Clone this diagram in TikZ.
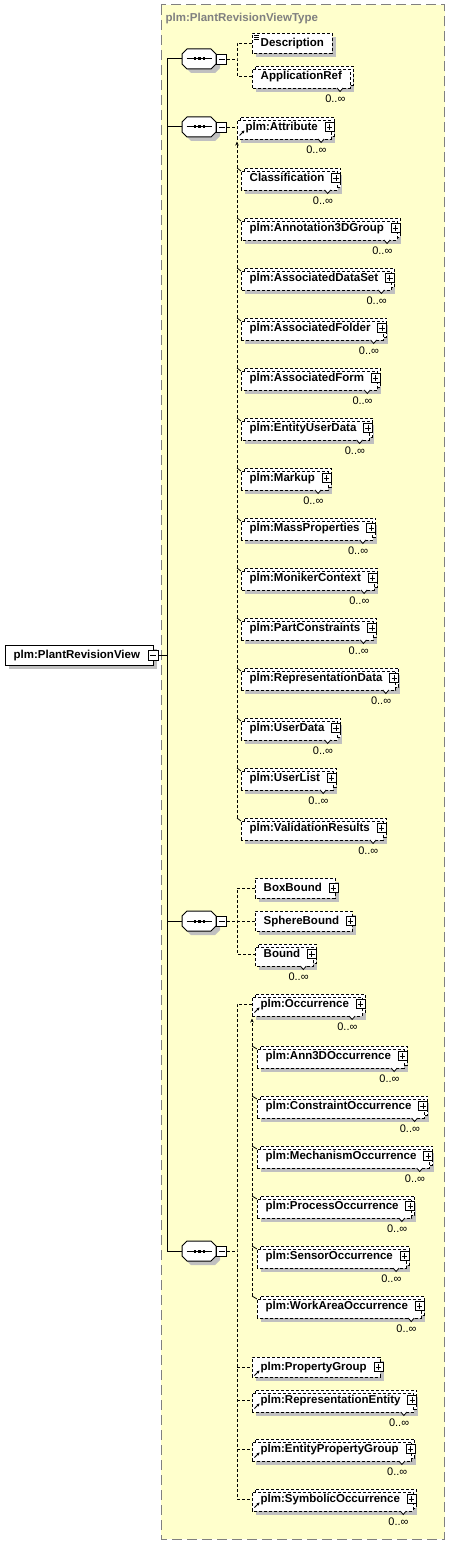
\documentclass[tikz,border=0pt]{standalone}
\usepackage{fontspec}
\setmainfont{Liberation Sans}
\usetikzlibrary{calc,arrows.meta}
\pgfdeclarelayer{bgl}\pgfdeclarelayer{shad}\pgfdeclarelayer{boxl}
\pgfsetlayers{bgl,shad,boxl,main}
\definecolor{yel}{RGB}{255,255,204}
\definecolor{shd}{RGB}{192,192,192}
\definecolor{ttl}{RGB}{128,128,128}
\tikzset{
  lbl/.style={inner sep=0pt, text height=8pt, text depth=1pt, font=\fontsize{11.5}{13}\selectfont\bfseries, anchor=west},
  multlbl/.style={inner sep=0pt, font=\fontsize{11}{12}\selectfont, anchor=east},
  dsh/.style={line width=0.9pt, dash pattern=on 3pt off 2pt},
  conn/.style={line width=0.9pt, dash pattern=on 3pt off 2pt},
  solidln/.style={line width=1pt},
  iconln/.style={line width=0.8pt},
  refarrow/.style={line width=0.9pt, -{Stealth[length=3pt,width=3pt]}},
}
% plus box centred on a named coordinate
\newcommand\plusbx[1]{%
  \draw[iconln, fill=white] ($(#1)+(-4.5,-4.5)$) rectangle ($(#1)+(4.5,4.5)$);
  \draw[iconln] ($(#1)+(-2.7,0)$) -- ($(#1)+(2.7,0)$) ($(#1)+(0,-2.7)$) -- ($(#1)+(0,2.7)$);
}
% multiple element: name, x0, cy, text, right pad, plus(1/0)
\newcommand\multel[6]{%
  \node[lbl] (#1) at (#2+8.5,#3) {#4};
  \coordinate (#1-l) at (#2,#3);
  \coordinate (#1-bl) at (#2,#3+12);
  \coordinate (#1-tr) at ($(#1.east)+(#5,-7)$);
  \coordinate (#1-br) at (#1-tr |- #1-bl);
  \begin{pgfonlayer}{shad}
    \fill[shd] ($(#1-bl)+(4,4)$) rectangle ($(#1-tr)+(4,4)$);
  \end{pgfonlayer}
  \begin{pgfonlayer}{boxl}
    \draw[dsh, fill=white] ($(#1-bl)+(3,-3)$) rectangle ($(#1-tr)+(3,-3)$);
    \draw[dsh, fill=white] (#1-bl) rectangle (#1-tr);
  \end{pgfonlayer}
  \draw[iconln, fill=white] ($(#1-br)+(-13,0)$) -- ($(#1-br)+(-10,3.5)$) -- ($(#1-br)+(-7,0)$);
  \node[multlbl] (#1-m) at ($(#1-br)+(-4.5,11)$) {0..∞};
  \ifnum#6=1
    \coordinate (#1-pc) at ($(#1-tr |- #1)+(-1.5,0)$);
    \plusbx{#1-pc}
  \fi
}
% single element: name, x0, cy, text, right pad, plus(1/0)
\newcommand\singel[6]{%
  \node[lbl] (#1) at (#2+8.5,#3) {#4};
  \coordinate (#1-l) at (#2,#3);
  \coordinate (#1-bl) at (#2,#3+10);
  \coordinate (#1-tr) at ($(#1.east)+(#5,-10)$);
  \begin{pgfonlayer}{shad}
    \fill[shd] ($(#1-bl)+(4,4)$) rectangle ($(#1-tr)+(4,4)$);
  \end{pgfonlayer}
  \begin{pgfonlayer}{boxl}
    \draw[dsh, fill=white] (#1-bl) rectangle (#1-tr);
  \end{pgfonlayer}
  \ifnum#6=1
    \coordinate (#1-pc) at ($(#1-tr |- #1)+(-1.5,0)$);
    \plusbx{#1-pc}
  \fi
}
\newcommand\refmark[1]{%
  \draw[refarrow] ($(#1-l)+(2.5,8.5)$) -- ($(#1-l)+(7.5,3.5)$);
}
% sequence compositor: name, cy
\newcommand\seqc[2]{%
  \coordinate (#1-w) at (182,#2);
  \begin{pgfonlayer}{shad}
    \fill[shd] (186,#2-1) -- (191,#2-6) -- (215,#2-6) -- (220,#2-1) -- (220,#2+9) -- (215,#2+14) -- (191,#2+14) -- (186,#2+9) -- cycle;
  \end{pgfonlayer}
  \draw[solidln, fill=white] (182,#2-5) -- (187,#2-10) -- (211,#2-10) -- (216,#2-5) -- (216,#2+5) -- (211,#2+10) -- (187,#2+10) -- (182,#2+5) -- cycle;
  \draw[solidln] (186.5,#2) -- (211.5,#2);
  \fill (193.6,#2-1.5) rectangle (196.4,#2+1.5);
  \fill (198.1,#2-1.5) rectangle (200.9,#2+1.5);
  \fill (202.6,#2-1.5) rectangle (205.4,#2+1.5);
  \node[draw, iconln, fill=white, minimum size=10pt, inner sep=0pt] (#1-m) at (221.7,#2) {};
  \draw[iconln] (218.9,#2) -- (224.5,#2);
}
% substitution tick: bus x offset, element name
\newcommand\subtick[2]{%
  \draw[iconln] ($(#2-l)+(#1,-10)$) -- ($(#2-l)+(0,-7)$);
}
\begin{document}
\begin{tikzpicture}[x=1pt,y=-1pt]
\useasboundingbox (0,0) rectangle (450,1544);
\begin{pgfonlayer}{bgl}
  \draw[draw=ttl, line width=1pt, dash pattern=on 10pt off 5pt, fill=yel] (161,5) rectangle (444.5,1539);
\end{pgfonlayer}
\node[lbl, text=ttl] (title) at (165.5,18) {plm:PlantRevisionViewType};

% root element
\node[lbl] (root) at (13.5,655) {plm:PlantRevisionView};
\coordinate (root-bl) at (5,665);
\coordinate (root-tr) at ($(root.east)+(13,-10)$);
\begin{pgfonlayer}{shad}
  \fill[shd] ($(root-bl)+(4,4)$) rectangle ($(root-tr)+(4,4)$);
\end{pgfonlayer}
\begin{pgfonlayer}{boxl}
  \draw[solidln, fill=white] (root-bl) rectangle (root-tr);
\end{pgfonlayer}
\node[draw, iconln, fill=white, minimum size=10pt, inner sep=0pt] (rootm) at (root-tr |- root) {};
\draw[iconln] ($(rootm)+(-2.8,0)$) -- ($(rootm)+(2.8,0)$);

% compositors
\seqc{s1}{59}
\seqc{s2}{127}
\seqc{s3}{921}
\seqc{s4}{1251}

% trunk
\coordinate (tr-root) at (167,655);
\coordinate (tr-top) at (167,59);
\coordinate (tr-bot) at (167,1251);
\draw[solidln] (rootm.east) -- (tr-root);
\draw[solidln] (tr-top) -- (tr-bot);
\draw[solidln] (tr-top) -- (s1-w);
\draw[solidln] (s2-w -| tr-top) -- (s2-w);
\draw[solidln] (s3-w -| tr-top) -- (s3-w);
\draw[solidln] (tr-bot) -- (s4-w);

% group 1
\singel{desc}{252}{43}{Description}{8}{0}
\draw[line width=0.7pt] (254,35) -- (258.5,35) (254,37.3) -- (258.5,37.3) (254,39.6) -- (258.5,39.6);
\multel{appref}{252}{76}{ApplicationRef}{8}{0}
\coordinate (b1) at (237,59);
\draw[conn] (s1-m.east) -- (b1);
\draw[conn] (desc-l) -| (b1) |- (appref-l);

% group 2
\multel{attr}{237}{127}{plm:Attribute}{13}{1}
\refmark{attr}
\multel{class}{241}{178}{Classification}{13}{1}
\multel{ann3d}{241}{228}{plm:Annotation3DGroup}{13}{1}
\multel{ads}{241}{278}{plm:AssociatedDataSet}{13}{1}
\multel{afold}{241}{328}{plm:AssociatedFolder}{13}{1}
\multel{aform}{241}{378}{plm:AssociatedForm}{13}{1}
\multel{eud}{241}{428}{plm:EntityUserData}{13}{1}
\multel{markup}{241}{478}{plm:Markup}{13}{1}
\multel{mass}{241}{528}{plm:MassProperties}{13}{1}
\multel{moniker}{241}{578}{plm:MonikerContext}{13}{1}
\multel{partc}{241}{628}{plm:PartConstraints}{13}{1}
\multel{repdata}{241}{678}{plm:RepresentationData}{13}{1}
\multel{udata}{241}{728}{plm:UserData}{13}{1}
\multel{ulist}{241}{778}{plm:UserList}{13}{1}
\multel{valres}{241}{828}{plm:ValidationResults}{13}{1}
\draw[conn] (s2-m.east) -- (attr-l);
\coordinate (sub2-end) at ($(valres-l)+(-4,-10)$);
\draw[conn, -{Stealth[length=4pt,width=3.5pt]}] (sub2-end) -- ($(attr-bl)+(0,2.5)$);
\foreach \e in {class,ann3d,ads,afold,aform,eud,markup,mass,moniker,partc,repdata,udata,ulist,valres}{\subtick{-4}{\e}}

% group 3
\singel{boxb}{255}{888}{BoxBound}{13}{1}
\singel{sphb}{255}{921}{SphereBound}{13}{1}
\multel{bound}{255}{954}{Bound}{13}{1}
\coordinate (b3) at (237,921);
\draw[conn] (s3-m.east) -- (b3);
\draw[conn] (boxb-l) -| (b3) |- (bound-l);
\draw[conn] (b3) -- (sphb-l);

% group 4
\multel{occ}{252}{1004}{plm:Occurrence}{13}{1}
\refmark{occ}
\multel{ann3docc}{257}{1056}{plm:Ann3DOccurrence}{13}{1}
\multel{consocc}{257}{1106}{plm:ConstraintOccurrence}{13}{1}
\multel{mechocc}{257}{1156}{plm:MechanismOccurrence}{13}{1}
\multel{prococc}{257}{1206}{plm:ProcessOccurrence}{13}{1}
\multel{sensocc}{257}{1256}{plm:SensorOccurrence}{13}{1}
\multel{waocc}{257}{1306}{plm:WorkAreaOccurrence}{13}{1}
\singel{propgrp}{252}{1367}{plm:PropertyGroup}{13}{1}
\refmark{propgrp}
\multel{repent}{252}{1400}{plm:RepresentationEntity}{13}{1}
\refmark{repent}
\multel{epg}{252}{1449}{plm:EntityPropertyGroup}{13}{1}
\refmark{epg}
\multel{symocc}{252}{1499}{plm:SymbolicOccurrence}{13}{1}
\refmark{symocc}
\coordinate (b4) at (237,1251);
\draw[conn] (s4-m.east) -- (b4);
\draw[conn] (occ-l) -| (b4) |- (symocc-l);
\draw[conn] (propgrp-l -| b4) -- (propgrp-l);
\draw[conn] (repent-l -| b4) -- (repent-l);
\draw[conn] (epg-l -| b4) -- (epg-l);
\coordinate (sub4-end) at ($(waocc-l)+(-5,-10)$);
\draw[conn, -{Stealth[length=4pt,width=3.5pt]}] (sub4-end) -- ($(occ-bl)+(0,2.5)$);
\foreach \e in {ann3docc,consocc,mechocc,prococc,sensocc,waocc}{\subtick{-5}{\e}}
\end{tikzpicture}
\end{document}
